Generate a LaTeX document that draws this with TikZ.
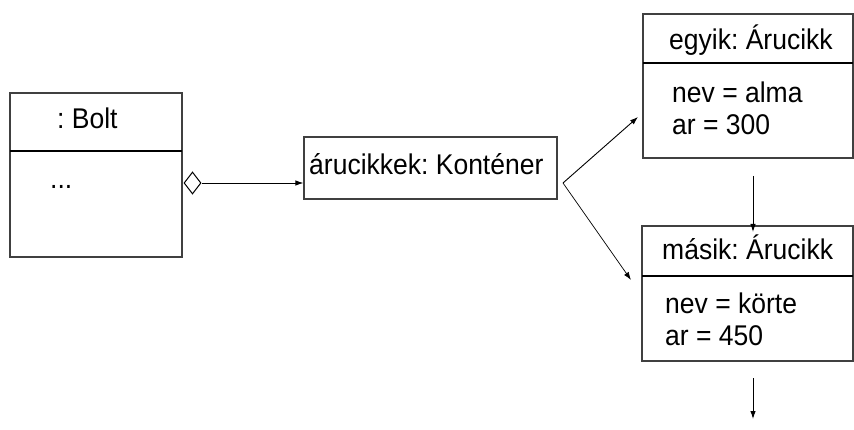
\documentclass[tikz,border=0pt]{standalone}
\usepackage{fontspec}
\setmainfont[FakeStretch=0.93]{Liberation Sans}
\usetikzlibrary{shapes.geometric,arrows.meta}
\begin{document}
\frenchspacing
\begin{tikzpicture}[x=1pt,y=-1pt,
  box/.style={draw=black!75,line width=1.2pt,inner sep=0pt},
  divider/.style={draw=black,line width=2pt},
  lbl/.style={anchor=base west,inner sep=0pt,font=\fontsize{28.5}{34}\selectfont},
  conn/.style={draw=black,line width=0.9pt,-{Latex[length=8pt,width=5.5pt]}},
  agg/.style={draw=black,shape=diamond,line width=1pt,minimum width=17pt,minimum height=22pt,inner sep=0pt}]
\useasboundingbox (0,0) rectangle (854,430);
% Bolt
\node[box,minimum width=172pt,minimum height=164pt] (bolt) at (96,175) {};
\draw[divider] (10,151) -- (182,151);
\node[lbl] (boltT) at (57,129) {: Bolt};
\node[lbl] (boltD) at (50,189) {...};
% aggregation diamond
\node[agg] (dia) at (192.5,183) {};
% container
\node[box,minimum width=253pt,minimum height=62pt] (cont) at (430.5,168) {};
\node[lbl] (contT) at (309,175) {árucikkek: Konténer};
% egyik
\node[box,minimum width=210pt,minimum height=144pt] (egy) at (748,86) {};
\draw[divider] (643,63) -- (853,63);
\node[lbl] (egyT) at (669,50) {egyik: Árucikk};
\node[lbl] (egyA) at (672,103) {nev = alma};
\node[lbl] (egyB) at (672,135) {ar = 300};
% masik
\node[box,minimum width=211pt,minimum height=135pt] (mas) at (747.5,293.5) {};
\draw[divider] (642,276) -- (853,276);
\node[lbl] (masT) at (662,260) {másik: Árucikk};
\node[lbl] (masA) at (665,314) {nev = körte};
\node[lbl] (masB) at (665,345) {ar = 450};
% connectors
\coordinate (fork) at (563,183);
\coordinate (toEgy) at (638,117);
\coordinate (toMas) at (631,280);
\coordinate (vTop) at (753,176);
\coordinate (vTopEnd) at (753,232);
\coordinate (vBot) at (753,378);
\coordinate (vBotEnd) at (753,419);
\draw[conn] (dia.east) -- (dia.east -| cont.west);
\draw[conn] (fork) -- (toEgy);
\draw[conn,line width=0.7pt] (fork) -- (toMas);
\draw[conn] (vTop) -- (vTopEnd);
\draw[conn] (vBot) -- (vBotEnd);
\end{tikzpicture}
\end{document}
